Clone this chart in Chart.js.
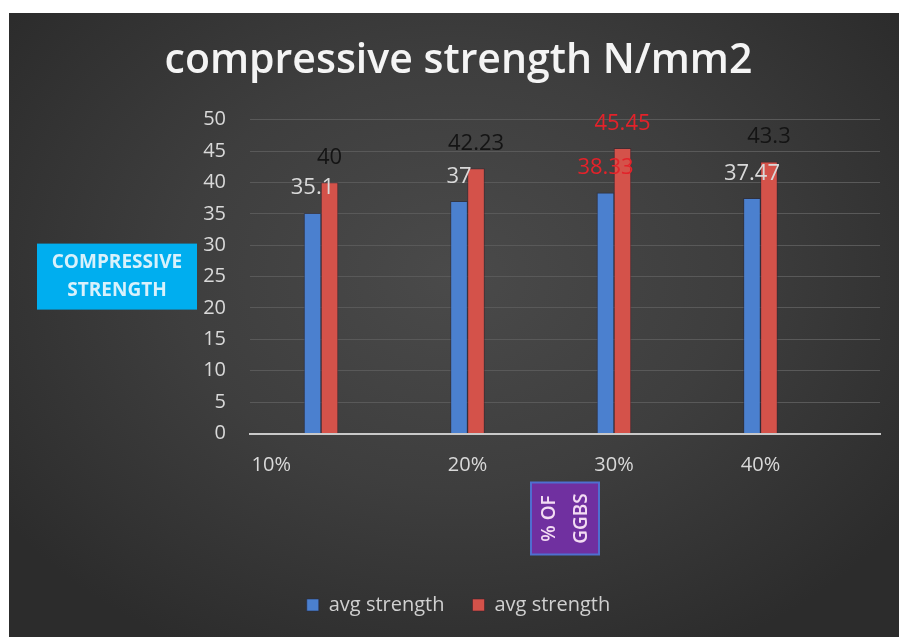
<!DOCTYPE html>
<html>
<head>
<meta charset="utf-8">
<title>compressive strength N/mm2</title>
<script src="https://cdn.jsdelivr.net/npm/chart.js@4.4.1/dist/chart.umd.min.js"></script>
<style>
  html, body { margin: 0; padding: 0; background: #ffffff; }
  #wrap {
    position: absolute; left: 9px; top: 13px; width: 890px; height: 624px;
    background: radial-gradient(ellipse 62% 68% at 50% 42%, #4a4a4a 0%, #3e3e3e 50%, #2c2c2c 100%);
  }
  canvas { display: block; }
</style>
</head>
<body>
<div id="wrap"><canvas id="c" width="890" height="624"></canvas></div>
<script>
// GGBS replacement levels and the average compressive strengths measured at each
const categories = ['10%', '20%', '30%', '40%'];
const seriesNames = ['avg strength', 'avg strength'];
const blueValues = [35.1, 37, 38.33, 37.47];
const redValues = [40, 42.23, 45.45, 43.3];

const FONT = 'Open Sans';
const LIGHT = '#d9d9d9';

// value label printed above each bar
const valueLabels = {
  id: 'valueLabels',
  afterDatasetsDraw(chart) {
    const ctx = chart.ctx;
    ctx.save();
    ctx.font = '22px "' + FONT + '"';
    ctx.textAlign = 'center';
    ctx.textBaseline = 'middle';
    chart.data.datasets.forEach((ds, i) => {
      chart.getDatasetMeta(i).data.forEach((bar, j) => {
        ctx.fillStyle = ds.labelColors[j];
        ctx.fillText(String(ds.data[j].y), bar.x, bar.y - 25);
      });
    });
    ctx.restore();
  }
};

// boxed axis titles
const axisTitleBoxes = {
  id: 'axisTitleBoxes',
  afterDraw(chart) {
    const ctx = chart.ctx;
    const a = chart.chartArea;
    ctx.save();
    // value axis title
    const cy = (a.top + a.bottom) / 2;
    ctx.fillStyle = '#00aeef';
    ctx.fillRect(28, cy - 33, 160, 66);
    ctx.fillStyle = '#d8f1fb';
    ctx.font = 'bold 19px "' + FONT + '"';
    ctx.textAlign = 'center';
    ctx.textBaseline = 'middle';
    ctx.fillText('COMPRESSIVE', 108, cy - 14);
    ctx.fillText('STRENGTH', 108, cy + 14);
    // category axis title, written vertically
    const cx = (a.left + a.right) / 2;
    const by = a.bottom + 85;
    ctx.fillStyle = '#7030a0';
    ctx.fillRect(cx - 34, by - 36, 68, 72);
    ctx.strokeStyle = '#4f6fd0';
    ctx.lineWidth = 2;
    ctx.strokeRect(cx - 34, by - 36, 68, 72);
    ctx.translate(cx, by);
    ctx.rotate(-Math.PI / 2);
    ctx.fillStyle = '#f3dcf3';
    ctx.font = '600 19px "' + FONT + '"';
    ctx.fillText('% OF', 0, -15);
    ctx.fillText('GGBS', 0, 17);
    ctx.restore();
  }
};

const toPoints = vals => vals.map((v, i) => ({ x: i + 1, y: v }));

new Chart(document.getElementById('c'), {
  type: 'bar',
  data: {
    datasets: [
      {
        label: seriesNames[0],
        data: toPoints(blueValues),
        backgroundColor: '#4b80cf',
        borderColor: 'rgba(35,40,70,0.55)',
        borderWidth: 1,
        barThickness: 17,
        labelColors: [LIGHT, LIGHT, '#e3222a', LIGHT]
      },
      {
        label: seriesNames[1],
        data: toPoints(redValues),
        backgroundColor: '#d4524a',
        borderColor: 'rgba(70,30,40,0.55)',
        borderWidth: 1,
        barThickness: 17,
        labelColors: ['#141414', '#141414', '#e3222a', '#141414']
      }
    ]
  },
  options: {
    responsive: false,
    animation: false,
    layout: { padding: { left: 28, right: 19, top: 0, bottom: 12 } },
    scales: {
      x: {
        type: 'linear',
        offset: false,
        min: 0.515,
        max: 4.816,
        afterBuildTicks(scale) {
          scale.ticks = [0.66, 2, 3, 4].map(v => ({ value: v }));
        },
        afterFit(scale) { scale.height = 133.5; },
        grid: { display: false, drawTicks: false },
        border: { display: true, color: '#c9c9c9', width: 2 },
        ticks: {
          padding: 20,
          color: LIGHT,
          font: { family: FONT, size: 20 },
          autoSkip: false,
          maxRotation: 0,
          callback: (value, index) => categories[index]
        }
      },
      y: {
        min: 0,
        max: 50,
        afterFit(scale) { scale.width = 213; },
        grid: { color: '#595959', lineWidth: 1, drawTicks: false },
        border: { display: false },
        ticks: {
          stepSize: 5,
          padding: 24,
          color: LIGHT,
          font: { family: FONT, size: 20 }
        }
      }
    },
    plugins: {
      title: {
        display: true,
        text: 'compressive strength N/mm2',
        color: '#f4f4f4',
        font: { family: FONT, size: 41, weight: '600' },
        padding: { top: 24, bottom: 33.5 }
      },
      legend: {
        position: 'bottom',
        labels: {
          color: '#d0d0d0',
          font: { family: FONT, size: 20 },
          boxWidth: 12,
          boxHeight: 12,
          padding: 28
        }
      },
      tooltip: { enabled: false }
    }
  },
  plugins: [valueLabels, axisTitleBoxes]
});
</script>
</body>
</html>
